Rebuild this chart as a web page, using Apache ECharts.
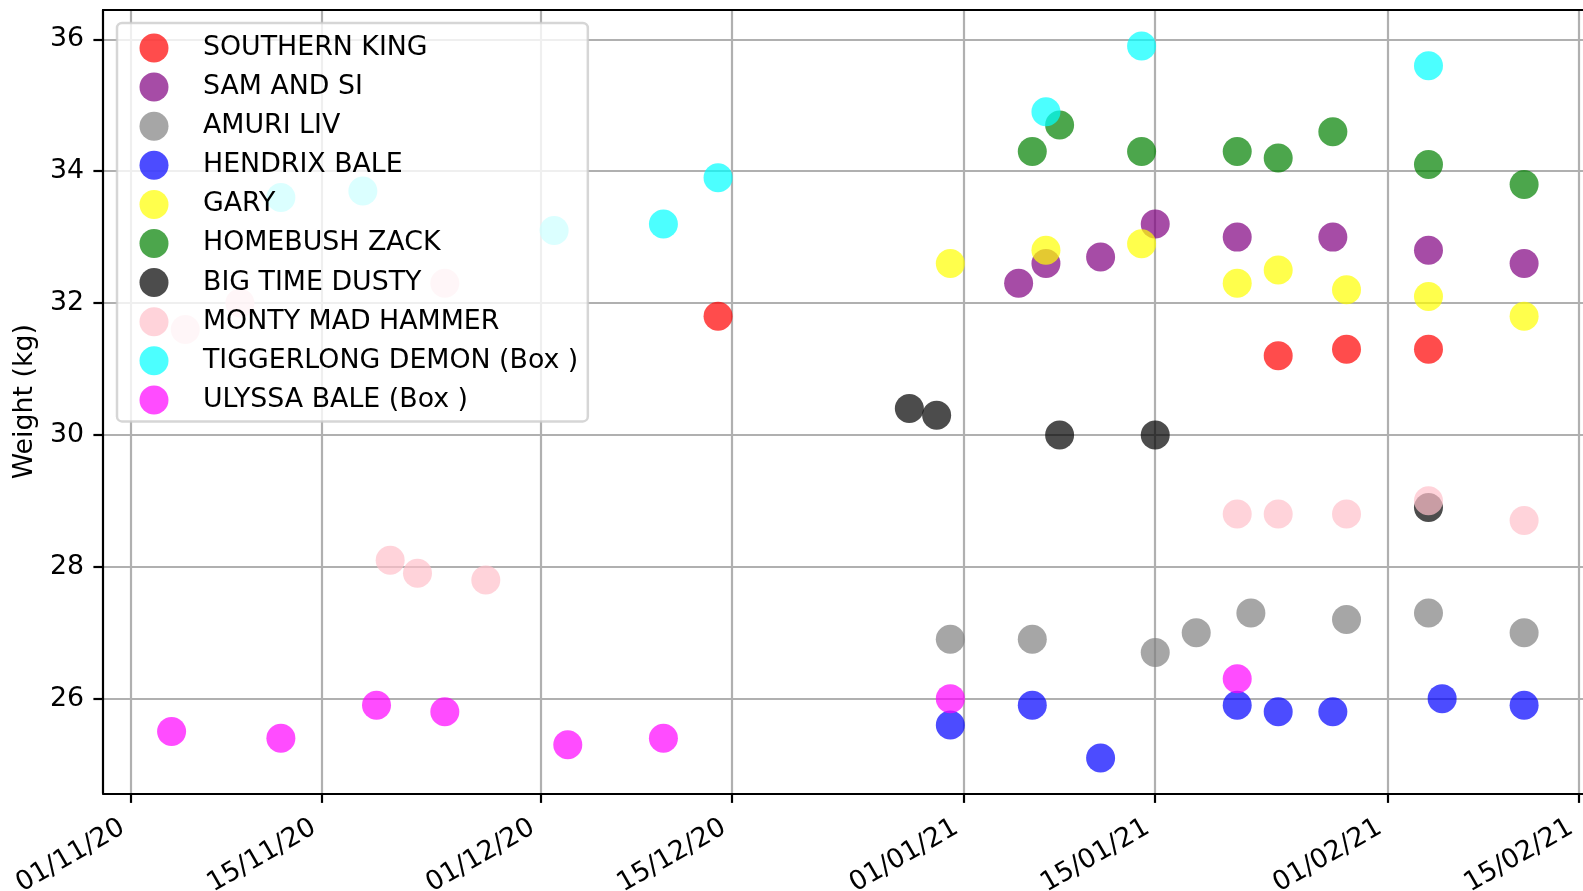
<!DOCTYPE html>
<html>
<head>
<meta charset="utf-8">
<script src="https://cdn.jsdelivr.net/npm/echarts@6/dist/echarts.min.js"></script>
<style>
html,body{margin:0;padding:0;background:#ffffff;}
#chart{width:1583px;height:891px;}
</style>
</head>
<body>
<div id="chart"></div>
<script>
// ---- data ----
const seriesNames = ['SOUTHERN KING','SAM AND SI','AMURI LIV','HENDRIX BALE','GARY','HOMEBUSH ZACK','BIG TIME DUSTY','MONTY MAD HAMMER','TIGGERLONG DEMON (Box )','ULYSSA BALE (Box )'];
const seriesColors = ['rgba(255,0,0,0.7)','rgba(128,0,128,0.7)','rgba(128,128,128,0.7)','rgba(0,0,255,0.7)','rgba(255,255,0,0.7)','rgba(0,128,0,0.7)','rgba(0,0,0,0.7)','rgba(255,192,203,0.7)','rgba(0,255,255,0.7)','rgba(255,0,255,0.7)'];

const southernKingDates = ['2020-12-14','2021-01-24','2021-01-29','2021-02-04'];
const southernKingWeights = [31.8, 31.2, 31.3, 31.3];

const samAndSiDates = ['2021-01-05','2021-01-07','2021-01-11','2021-01-15','2021-01-21','2021-01-28','2021-02-04','2021-02-11'];
const samAndSiWeights = [32.3, 32.6, 32.7, 33.2, 33.0, 33.0, 32.8, 32.6];

const amuriLivDates = ['2020-12-31','2021-01-06','2021-01-15','2021-01-18','2021-01-22','2021-01-29','2021-02-04','2021-02-11'];
const amuriLivWeights = [26.9, 26.9, 26.7, 27.0, 27.3, 27.2, 27.3, 27.0];

const hendrixBaleDates = ['2020-12-31','2021-01-06','2021-01-11','2021-01-21','2021-01-24','2021-01-28','2021-02-05','2021-02-11'];
const hendrixBaleWeights = [25.6, 25.9, 25.1, 25.9, 25.8, 25.8, 26.0, 25.9];

const garyDates = ['2020-12-31','2021-01-07','2021-01-14','2021-01-21','2021-01-24','2021-01-29','2021-02-04','2021-02-11'];
const garyWeights = [32.6, 32.8, 32.9, 32.3, 32.5, 32.2, 32.1, 31.8];

const homebushZackDates = ['2021-01-06','2021-01-08','2021-01-14','2021-01-21','2021-01-24','2021-01-28','2021-02-04','2021-02-11'];
const homebushZackWeights = [34.3, 34.7, 34.3, 34.3, 34.2, 34.6, 34.1, 33.8];

const bigTimeDustyDates = ['2020-12-28','2020-12-30','2021-01-08','2021-01-15','2021-02-04'];
const bigTimeDustyWeights = [30.4, 30.3, 30.0, 30.0, 28.9];

const montyMadHammerDates = ['2020-11-05','2020-11-09','2020-11-20','2020-11-22','2020-11-24','2020-11-27','2021-01-21','2021-01-24','2021-01-29','2021-02-04','2021-02-11'];
const montyMadHammerWeights = [31.6, 32.0, 28.1, 27.9, 32.3, 27.8, 28.8, 28.8, 28.8, 29.0, 28.7];

const tiggerlongDemonDates = ['2020-11-12','2020-11-18','2020-12-02','2020-12-10','2020-12-14','2021-01-07','2021-01-14','2021-02-04'];
const tiggerlongDemonWeights = [33.6, 33.7, 33.1, 33.2, 33.9, 34.9, 35.9, 35.6];

const ulyssaBaleDates = ['2020-11-04','2020-11-12','2020-11-19','2020-11-24','2020-12-03','2020-12-10','2020-12-31','2021-01-21'];
const ulyssaBaleWeights = [25.5, 25.4, 25.9, 25.8, 25.3, 25.4, 26.0, 26.3];

const xTickDates = ['2020-11-01','2020-11-15','2020-12-01','2020-12-15','2021-01-01','2021-01-15','2021-02-01','2021-02-15'];
const yTickValues = [26, 28, 30, 32, 34, 36];

// ---- build ----
function toTs(s){ const p = s.split('-').map(Number); return new Date(p[0], p[1]-1, p[2]).getTime(); }
function pad2(n){ return (n < 10 ? '0' : '') + n; }
function fmtDate(v){ const d = new Date(Number(v)); return pad2(d.getDate()) + '/' + pad2(d.getMonth()+1) + '/' + pad2(d.getFullYear() % 100); }

const allDates = [southernKingDates, samAndSiDates, amuriLivDates, hendrixBaleDates, garyDates, homebushZackDates, bigTimeDustyDates, montyMadHammerDates, tiggerlongDemonDates, ulyssaBaleDates];
const allWeights = [southernKingWeights, samAndSiWeights, amuriLivWeights, hendrixBaleWeights, garyWeights, homebushZackWeights, bigTimeDustyWeights, montyMadHammerWeights, tiggerlongDemonWeights, ulyssaBaleWeights];

const DAY = 86400000;
const xMin = toTs('2020-10-30') - 0.02 * DAY;
const xMax = toTs('2021-02-15') + 0.31 * DAY;
const xTicks = xTickDates.map(toTs);

const FONT = 'DejaVu Sans';
const FS = 26.8;

const series = seriesNames.map((name, i) => ({
  type: 'scatter',
  name: name,
  xAxisIndex: 0,
  yAxisIndex: 0,
  symbol: 'circle',
  symbolSize: 29,
  itemStyle: { color: seriesColors[i], opacity: 1 },
  emphasis: { disabled: true },
  data: allDates[i].map((d, j) => [toTs(d), allWeights[i][j]])
}));

const option = {
  animation: false,
  backgroundColor: '#ffffff',
  textStyle: { fontFamily: FONT },
  grid: { left: 103, right: 0, top: 10, bottom: 97.7, containLabel: false, outerBoundsMode: 'none' },
  legend: {
    orient: 'vertical',
    left: 117,
    top: 23,
    padding: [10.5, 9.5, 7, 22.5],
    itemWidth: 29,
    itemHeight: 29,
    itemGap: 10.1,
    icon: 'circle',
    itemStyle: { opacity: 1 },
    backgroundColor: 'rgba(255,255,255,0.8)',
    borderColor: 'rgba(204,204,204,0.8)',
    borderWidth: 2.5,
    borderRadius: 5,
    selectedMode: false,
    textStyle: { fontFamily: FONT, fontSize: FS, color: '#000000', padding: [0, 0, 0, 29.5], lineHeight: 29 },
    data: seriesNames
  },
  xAxis: [{
    type: 'value',
    min: xMin,
    max: xMax,
    position: 'bottom',
    axisLine: { show: true, onZero: false, lineStyle: { color: '#000000', width: 2.2 } },
    axisTick: { show: true, customValues: xTicks, length: 9.6, lineStyle: { color: '#000000', width: 2.2 } },
    axisLabel: { show: true, customValues: xTicks, rotate: 30, margin: 28, padding: [0, 9, 0, 0], fontFamily: FONT, fontSize: FS, color: '#000000', formatter: fmtDate },
    splitLine: { show: true, lineStyle: { color: '#b0b0b0', width: 2.2 } }
  }, {
    type: 'value',
    min: xMin,
    max: xMax,
    position: 'top',
    axisLine: { show: true, onZero: false, lineStyle: { color: '#000000', width: 2.2 } },
    axisTick: { show: false },
    axisLabel: { show: false },
    splitLine: { show: false }
  }],
  yAxis: [{
    type: 'value',
    min: 24.564,
    max: 36.445,
    position: 'left',
    name: 'Weight (kg)',
    nameLocation: 'middle',
    nameGap: 54,
    nameTextStyle: { fontFamily: FONT, fontSize: FS, color: '#000000' },
    axisLine: { show: true, onZero: false, lineStyle: { color: '#000000', width: 2.2 } },
    axisTick: { show: true, customValues: yTickValues, length: 9.6, lineStyle: { color: '#000000', width: 2.2 } },
    axisLabel: { show: true, customValues: yTickValues, margin: 19, fontFamily: FONT, fontSize: FS, color: '#000000' },
    splitLine: { show: true, lineStyle: { color: '#b0b0b0', width: 2.2 } }
  }],
  series: series
};

const chart = echarts.init(document.getElementById('chart'), null, { renderer: 'canvas' });
chart.setOption(option);
</script>
</body>
</html>
